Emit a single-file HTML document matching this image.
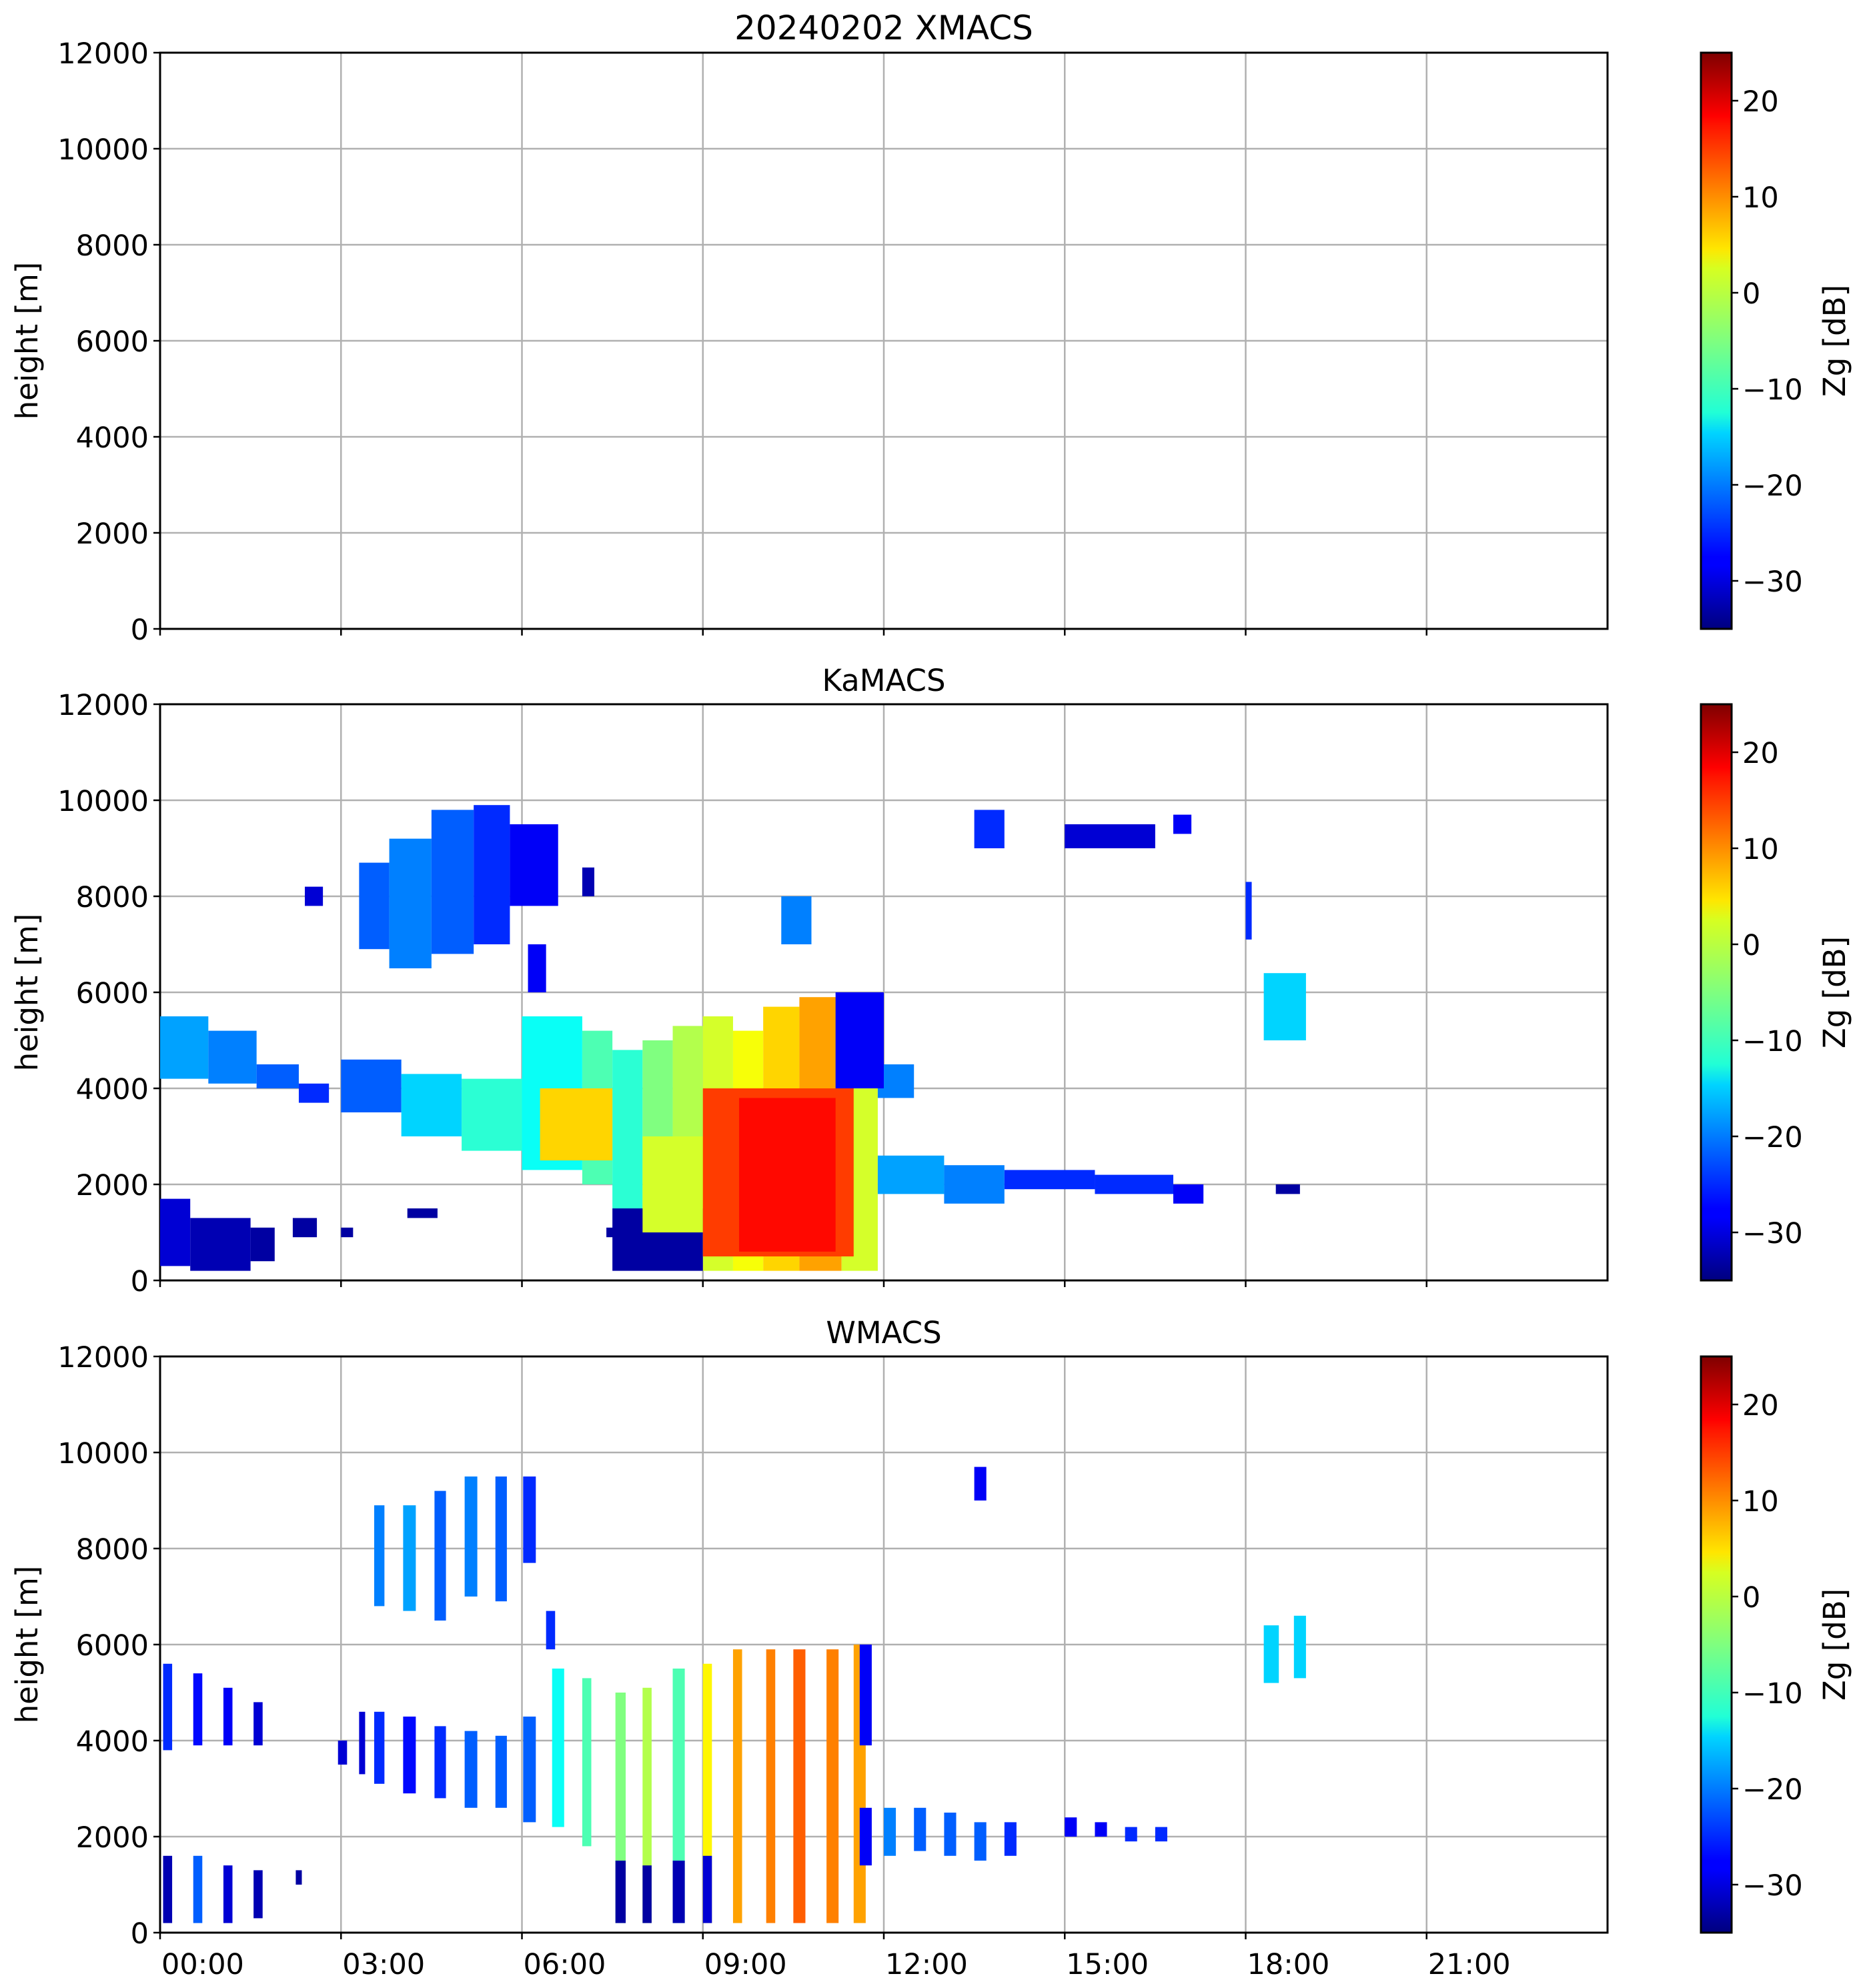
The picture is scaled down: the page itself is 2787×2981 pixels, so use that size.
<!DOCTYPE html>
<html><head><meta charset="utf-8"><style>
html,body{margin:0;padding:0;background:#fff;}
svg{display:block;font-family:"DejaVu Sans","Liberation Sans",sans-serif;}
</style></head><body>
<svg id="fig" width="2787" height="2981" viewBox="0 0 2787 2981" xmlns="http://www.w3.org/2000/svg">
<defs>
<linearGradient id="jet" x1="0" y1="1" x2="0" y2="0">
<stop offset="0" stop-color="#00007f"/><stop offset="0.11" stop-color="#0000ff"/><stop offset="0.125" stop-color="#0000ff"/>
<stop offset="0.34" stop-color="#00d4ff"/><stop offset="0.375" stop-color="#21ffd6"/><stop offset="0.5" stop-color="#7fff7f"/>
<stop offset="0.625" stop-color="#d6ff21"/><stop offset="0.66" stop-color="#ffe600"/><stop offset="0.875" stop-color="#ff1300"/><stop offset="0.89" stop-color="#ff0000"/>
<stop offset="1" stop-color="#7f0000"/>
</linearGradient>
</defs>
</svg>
<script>
// ---- data arrays (hours, metres, dBZ) ----
const panelTitles = ["20240202 XMACS", "KaMACS", "WMACS"];
const yTicks = [0, 2000, 4000, 6000, 8000, 10000, 12000];
const xTickHours = [0, 3, 6, 9, 12, 15, 18, 21];
const xTickLabels = ["00:00", "03:00", "06:00", "09:00", "12:00", "15:00", "18:00", "21:00"];
const cbTicks = [-30, -20, -10, 0, 10, 20];

// KaMACS echo blocks
const kaStart = [3.3,3.8,4.5,5.2,5.8,2.4, 0,0.8,1.6,2.3, 3.0,4.0,5.0,6.0,7.0,7.5,8.0,8.5,9.0,9.5,10.0,10.6,11.3, 7.5,6.3,8.0,9.0,9.6, 11.9,13.0,14.0,15.5,16.8,11.9,11.2,18.3,13.5,15.0,16.8,10.3,18.0,18.5, 0,0.5,1.5,2.2,3.0,4.1,7.4, 6.1,7.0];
const kaEnd   = [3.8,4.5,5.2,5.8,6.6,2.7, 0.8,1.6,2.3,2.8, 4.0,5.0,6.0,7.0,7.5,8.0,8.5,9.0,9.5,10.0,10.6,11.3,11.9, 9.0,7.5,9.0,11.5,11.2, 13.0,14.0,15.5,16.8,17.3,12.5,12.0,19.0,14.0,16.5,17.1,10.8,18.1,18.9, 0.5,1.5,1.9,2.6,3.2,4.6,7.7, 6.4,7.2];
const kaBottom= [6900,6500,6800,7000,7800,7800, 4200,4100,4000,3700, 3500,3000,2700,2300,2000,1500,1000,500,200,200,200,200,200, 200,2500,1000,500,600, 1800,1600,1900,1800,1600,3800,4000,5000,9000,9000,9300,7000,7100,1800, 300,200,400,900,900,1300,900, 6000,8000];
const kaTop   = [8700,9200,9800,9900,9500,8200, 5500,5200,4500,4100, 4600,4300,4200,5500,5200,4800,5000,5300,5500,5200,5700,5900,6000, 1500,4000,3000,4000,3800, 2600,2400,2300,2200,2000,4500,6000,6400,9800,9500,9700,8000,8300,2000, 1700,1300,1100,1300,1100,1500,1100, 7000,8600];
const kaDbz   = [-22,-20,-22,-25,-28,-30, -18,-20,-22,-25, -22,-15,-10,-12,-8,-10,-5,-2,0,2,5,8,0, -33,5,0,14,17, -18,-20,-25,-25,-28,-20,-28,-15,-25,-30,-28,-20,-25,-33, -30,-32,-33,-33,-33,-33,-33, -28,-32];

// WMACS echo stripes
const wStart = [0.05,0.55,1.05,1.55, 0.05,0.55,1.05,1.55, 3.55,4.03,4.55,5.05,5.56,6.02, 3.55,4.03,4.55,5.05,5.56, 2.25,2.95,3.3, 6.02,6.5,7.0,7.55,8.0,8.5,9.0,9.5,10.05,10.5,11.05,11.5, 7.55,8.0,8.5,9.0, 11.6,12.0,12.5,13.0,13.5,14.0,15.0,15.5,16.0,16.5, 18.3,18.8,13.5,6.4, 11.6];
const wEnd   = [0.2,0.7,1.2,1.7, 0.2,0.7,1.2,1.7, 3.72,4.24,4.74,5.26,5.75,6.23, 3.72,4.24,4.74,5.26,5.75, 2.35,3.1,3.4, 6.23,6.7,7.15,7.72,8.15,8.7,9.15,9.65,10.2,10.7,11.25,11.7, 7.72,8.15,8.7,9.15, 11.8,12.2,12.7,13.2,13.7,14.2,15.2,15.7,16.2,16.7, 18.55,19.0,13.7,6.55, 11.8];
const wBottom= [3800,3900,3900,3900, 200,200,200,300, 6800,6700,6500,7000,6900,7700, 3100,2900,2800,2600,2600, 1000,3500,3300, 2300,2200,1800,200,200,200,200,200,200,200,200,200, 200,200,200,200, 3900,1600,1700,1600,1500,1600,2000,2000,1900,1900, 5200,5300,9000,5900, 1400];
const wTop   = [5600,5400,5100,4800, 1600,1600,1400,1300, 8900,8900,9200,9500,9500,9500, 4600,4500,4300,4200,4100, 1300,4000,4600, 4500,5500,5300,5000,5100,5500,5600,5900,5900,5900,5900,6000, 1500,1400,1500,1600, 6000,2600,2600,2500,2300,2300,2400,2300,2200,2200, 6400,6600,9700,6700, 2600];
const wDbz   = [-25,-27,-28,-30, -32,-22,-30,-32, -20,-18,-22,-20,-22,-25, -25,-27,-25,-22,-22, -33,-30,-30, -22,-12,-8,-5,-2,-8,3,8,10,12,10,8, -33,-33,-32,-30, -28,-20,-22,-22,-22,-25,-28,-28,-25,-25, -15,-15,-28,-25, -28];

// ---- layout ----
const NS = "http://www.w3.org/2000/svg";
const svg = document.getElementById("fig");
const X0 = 240, X1 = 2410, PH = 864;
const panelTops = [79, 1056, 2034];
const CBX = 2550, CBW = 46;
const VMIN = -35, VMAX = 25;
function xs(h){ return X0 + h/24*(X1-X0); }
function ys(m, top){ return top + PH - m/12000*PH; }
function cbY(v, top){ return top + PH - (v-VMIN)/(VMAX-VMIN)*PH; }
function jet(v){
  let t = Math.max(0, Math.min(1, (v-VMIN)/(VMAX-VMIN)));
  function c(x){ return Math.max(0, Math.min(1, x)); }
  const r = c(1.5 - Math.abs(4*t - 3)), g = c(1.5 - Math.abs(4*t - 2)), b = c(1.5 - Math.abs(4*t - 1));
  return "rgb(" + Math.round(r*255) + "," + Math.round(g*255) + "," + Math.round(b*255) + ")";
}
function mk(tag, attrs, parent){
  const e = document.createElementNS(NS, tag);
  for (const k in attrs) e.setAttribute(k, attrs[k]);
  (parent || svg).appendChild(e);
  return e;
}
function txt(s, attrs, parent){ const e = mk("text", attrs, parent); e.textContent = s; return e; }

function drawBlocks(top, st, en, bo, tp, dv, name){
  const g = mk("g", {});
  
  
  for (let i = 0; i < st.length; i++){
    const r = mk("rect", {x: xs(st[i]), y: ys(tp[i], top), width: xs(en[i]) - xs(st[i]), height: ys(bo[i], top) - ys(tp[i], top), fill: jet(dv[i])}, g);
    
    
  }
}

panelTops.forEach((top, p) => {
  const g = mk("g", {});
  
  
  yTicks.forEach(v => { mk("line", {x1: X0, x2: X1, y1: ys(v, top), y2: ys(v, top), stroke: "#b0b0b0", "stroke-width": 2.5}, g); });
  xTickHours.forEach(h => { mk("line", {x1: xs(h), x2: xs(h), y1: top, y2: top+PH, stroke: "#b0b0b0", "stroke-width": 2.5}, g); });
  if (p === 1) drawBlocks(top, kaStart, kaEnd, kaBottom, kaTop, kaDbz, 'kamacs');
  if (p === 2) drawBlocks(top, wStart, wEnd, wBottom, wTop, wDbz, 'wmacs');
  const fr = mk("rect", {x: X0, y: top, width: X1-X0, height: PH, fill: "none", stroke: "#000", "stroke-width": 3}, g);
  
  
  yTicks.forEach(v => {
    mk("line", {x1: X0-10, x2: X0, y1: ys(v, top), y2: ys(v, top), stroke: "#000", "stroke-width": 2.5}, g);
    const t = txt(String(v), {x: X0-17, y: ys(v, top)+16, "font-size": 43, "text-anchor": "end"}, g);
    
    
  });
  xTickHours.forEach((h, i) => {
    mk("line", {x1: xs(h), x2: xs(h), y1: top+PH, y2: top+PH+10, stroke: "#000", "stroke-width": 2.5}, g);
    if (p === 2){
      const t = txt(xTickLabels[i], {x: xs(h)+2, y: top+PH+62, "font-size": 43}, g);
      
      
    }
  });
  const yl = txt("height [m]", {x: 0, y: 0, "font-size": 45, "text-anchor": "middle", transform: "translate(56," + (top+PH/2) + ") rotate(-90)"}, g);
  
  
  const ti = txt(panelTitles[p], {x: (X0+X1)/2, y: top-20, "font-size": p === 0 ? 50 : 45, "text-anchor": "middle"}, g);
  
  
  const cb = mk("rect", {x: CBX, y: top, width: CBW, height: PH, fill: "url(#jet)", stroke: "#000", "stroke-width": 3}, g);
  
  
  cbTicks.forEach(v => {
    mk("line", {x1: CBX+CBW, x2: CBX+CBW+10, y1: cbY(v, top), y2: cbY(v, top), stroke: "#000", "stroke-width": 2.5}, g);
    const t = txt(String(v).replace("-", "\u2212"), {x: CBX+CBW+16, y: cbY(v, top)+16, "font-size": 43}, g);
    
    
  });
  const cl = txt("Zg [dB]", {x: 0, y: 0, "font-size": 45, "text-anchor": "middle", transform: "translate(2766," + (top+PH/2) + ") rotate(-90)"}, g);
  
  
});
</script>
</body></html>
